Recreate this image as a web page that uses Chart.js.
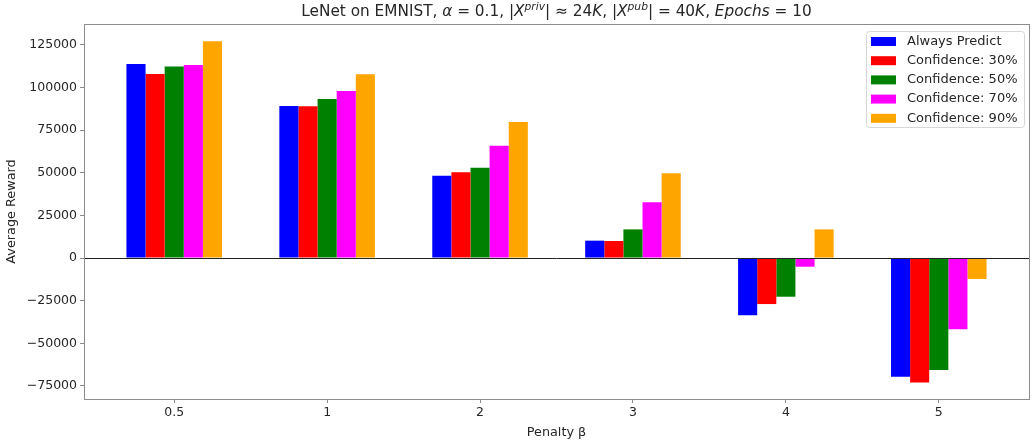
<!DOCTYPE html>
<html>
<head>
<meta charset="utf-8">
<script src="https://cdn.jsdelivr.net/npm/chart.js@4.4.1/dist/chart.umd.min.js"></script>
<style>
  body { margin: 0; background: #fff; }
</style>
</head>
<body>
<canvas id="chart" width="1032" height="446"></canvas>
<script>
// data
const penalties = ['0.5', '1', '2', '3', '4', '5'];
const seriesNames = ['Always Predict', 'Confidence: 30%', 'Confidence: 50%', 'Confidence: 70%', 'Confidence: 90%'];
const alwaysPredict = [113800, 89200, 48300, 10200, -33600, -69600];
const conf30 = [108000, 89000, 50300, 10000, -27000, -73000];
const conf50 = [112300, 93300, 53000, 16800, -22700, -65700];
const conf70 = [113300, 98000, 65900, 32700, -5100, -41800];
const conf90 = [127200, 107800, 79800, 49700, 16800, -12300];
const yTicks = [-75000, -50000, -25000, 0, 25000, 50000, 75000, 100000, 125000];

const seriesColors = ['#0000ff', '#ff0000', '#008000', '#ff00ff', '#ffa500'];
const FONT = 'DejaVu Sans';
const TXT = '#262626';
const SPINE = '#8c8c8c';

const seriesValues = [alwaysPredict, conf30, conf50, conf70, conf90];

// title with mathtext-like pieces, centred over the plot area
function drawTitle(chart) {
    const ctx = chart.ctx;
    const a = chart.chartArea;
    const size = 15.3;
    const parts = [
        ['LeNet on EMNIST, ', false, false],
        ['\u03b1', true, false],
        [' = 0.1, |', false, false],
        ['X', true, false],
        ['priv', true, true],
        ['| \u2248 24', false, false],
        ['K', true, false],
        [', |', false, false],
        ['X', true, false],
        ['pub', true, true],
        ['| = 40', false, false],
        ['K', true, false],
        [', ', false, false],
        ['Epochs', true, false],
        [' = 10', false, false]
    ];
    const fontOf = p => (p[1] ? 'italic ' : '') + (p[2] ? size * 0.7 : size) + 'px "' + FONT + '"';
    let total = 0;
    parts.forEach(p => { ctx.font = fontOf(p); total += ctx.measureText(p[0]).width; });
    let x = (a.left + a.right) / 2 - total / 2;
    const base = 16;
    ctx.save();
    ctx.fillStyle = TXT;
    ctx.textBaseline = 'alphabetic';
    ctx.textAlign = 'left';
    parts.forEach(p => {
        ctx.font = fontOf(p);
        ctx.fillText(p[0], x, p[2] ? base - 6 : base);
        x += ctx.measureText(p[0]).width;
    });
    ctx.restore();
}

function drawLegend(chart) {
    const ctx = chart.ctx;
    const x0 = 866, y0 = 31, w = 158, h = 96;
    ctx.save();
    ctx.fillStyle = 'rgba(255,255,255,0.8)';
    ctx.strokeStyle = '#d6d6d6';
    ctx.lineWidth = 1;
    ctx.beginPath();
    ctx.roundRect(x0 + 0.5, y0 + 0.5, w, h, 3);
    ctx.fill();
    ctx.stroke();
    ctx.font = '13px "' + FONT + '"';
    ctx.textBaseline = 'middle';
    chart.data.datasets.forEach((ds, i) => {
        const yy = 41.5 + i * 19.2;
        ctx.fillStyle = ds.backgroundColor;
        ctx.fillRect(871, yy - 4.5, 25, 9);
        ctx.fillStyle = TXT;
        ctx.fillText(ds.label, 907, yy);
    });
    ctx.restore();
}

const framePlugin = {
    id: 'frame',
    afterDatasetsDraw(chart) {
        const ctx = chart.ctx;
        const a = chart.chartArea;
        const y0 = chart.scales.y.getPixelForValue(0);
        ctx.save();
        ctx.strokeStyle = '#222';
        ctx.lineWidth = 1;
        ctx.beginPath();
        ctx.moveTo(a.left, Math.round(y0) + 0.5);
        ctx.lineTo(a.right, Math.round(y0) + 0.5);
        ctx.stroke();
        ctx.strokeStyle = SPINE;
        ctx.strokeRect(Math.round(a.left) + 0.5, Math.round(a.top) + 0.5,
            Math.round(a.right - a.left), Math.round(a.bottom - a.top));
        ctx.restore();
    },
    afterDraw(chart) {
        drawTitle(chart);
        drawLegend(chart);
    }
};

const datasets = seriesNames.map((name, i) => ({
    label: name,
    data: seriesValues[i],
    backgroundColor: seriesColors[i],
    borderWidth: 0,
    categoryPercentage: 0.625,
    barPercentage: 1.0
}));

new Chart(document.getElementById('chart'), {
    type: 'bar',
    data: { labels: penalties, datasets: datasets },
    options: {
        responsive: false,
        animation: false,
        layout: { padding: { top: 24, right: 3, left: 0, bottom: 0 } },
        plugins: {
            legend: { display: false },
            title: { display: false },
            tooltip: { enabled: false }
        },
        scales: {
            x: {
                offset: true,
                afterBuildTicks: scale => {
                    // matplotlib-like side margins
                    scale._startValue = -0.59;
                    scale._valueRange = penalties.length - 1 + 1.18;
                },
                afterFit: scale => { scale.height = 47; },
                grid: {
                    drawOnChartArea: false,
                    drawTicks: true,
                    tickLength: 4,
                    tickColor: SPINE,
                    offset: false
                },
                border: { display: false },
                ticks: {
                    color: TXT,
                    font: { family: FONT, size: 12.5 },
                    padding: 2,
                    maxRotation: 0
                },
                title: {
                    display: true,
                    text: 'Penalty \u03b2',
                    color: TXT,
                    font: { family: FONT, size: 12.8 },
                    padding: { top: 0, bottom: 6 }
                }
            },
            y: {
                min: -82700,
                max: 137300,
                afterFit: scale => { scale.width = 84; },
                afterBuildTicks: scale => {
                    scale.ticks = yTicks.map(v => ({ value: v }));
                },
                grid: {
                    drawOnChartArea: false,
                    drawTicks: true,
                    tickLength: 4,
                    tickColor: SPINE
                },
                border: { display: false },
                ticks: {
                    color: TXT,
                    font: { family: FONT, size: 12.5 },
                    padding: 3,
                    callback: v => String(v).replace('-', '\u2212')
                },
                title: {
                    display: true,
                    text: 'Average Reward',
                    color: TXT,
                    font: { family: FONT, size: 12.8 },
                    padding: { top: 4, bottom: 0 }
                }
            }
        }
    },
    plugins: [framePlugin]
});
</script>
</body>
</html>
